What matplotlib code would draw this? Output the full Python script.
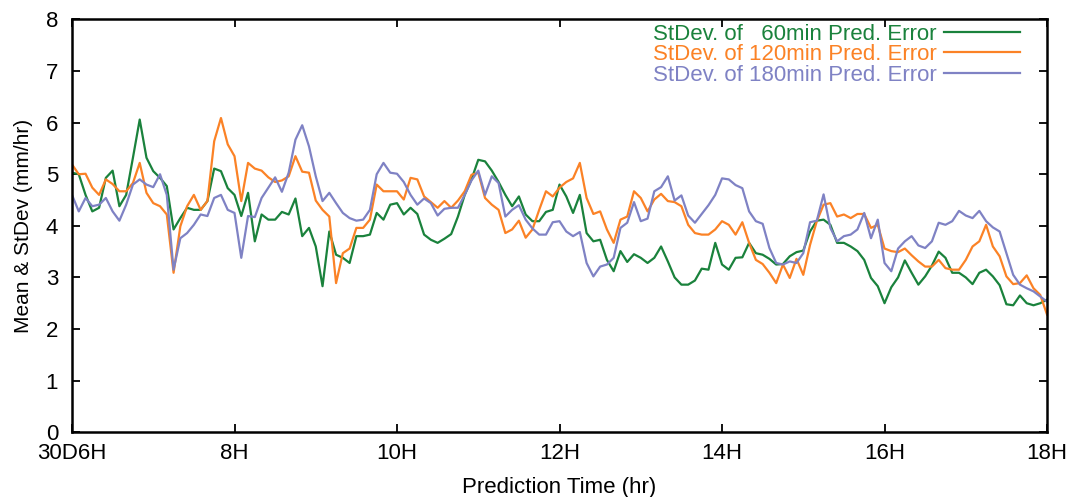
import matplotlib
matplotlib.use("Agg")
import matplotlib.pyplot as plt
import numpy as np

plt.rcParams['font.family'] = ['Liberation Sans', 'DejaVu Sans']

# 5-minute steps from 30D 06:00 to 18:00
t_hours = np.arange(145) * 5 / 60 + 6

sd60 = [5.03, 5.00, 4.60, 4.28, 4.35, 4.93, 5.07, 4.38, 4.60, 5.32, 6.06, 5.32, 5.06, 4.93, 4.77, 3.93,
        4.15, 4.35, 4.31, 4.31, 4.48, 5.11, 5.06, 4.73,
        4.60, 4.19, 4.64, 3.70, 4.22, 4.12, 4.12, 4.27, 4.22, 4.53, 3.80, 3.96, 3.60, 2.83, 3.89, 3.44,
        3.38, 3.28, 3.80, 3.80, 3.83, 4.25, 4.12, 4.41,
        4.44, 4.22, 4.35, 4.23, 3.83, 3.73, 3.67, 3.75, 3.84, 4.18, 4.60, 4.90, 5.28, 5.25, 5.07, 4.85,
        4.60, 4.38, 4.57, 4.22, 4.09, 4.09, 4.27, 4.31, 4.80,
        4.57, 4.25, 4.60, 3.86, 3.70, 3.73, 3.34, 3.12, 3.51, 3.30, 3.45, 3.38, 3.28, 3.38, 3.60, 3.31,
        3.00, 2.86, 2.86, 2.94, 3.17, 3.15, 3.67, 3.25,
        3.15, 3.38, 3.39, 3.67, 3.47, 3.44, 3.36, 3.25, 3.26, 3.41, 3.49, 3.52, 3.89, 4.10, 4.12, 4.02,
        3.67, 3.67, 3.60, 3.51, 3.34, 2.99, 2.83, 2.50,
        2.81, 3.00, 3.33, 3.09, 2.86, 3.02, 3.23, 3.50, 3.38, 3.09, 3.09, 3.00, 2.87, 3.09, 3.15, 3.02,
        2.85, 2.48, 2.46, 2.65, 2.50, 2.46, 2.50, 2.57]

sd120 = [5.19, 5.00, 5.01, 4.74, 4.60, 4.90, 4.81, 4.67, 4.67, 4.83, 5.22, 4.64, 4.44, 4.38, 4.22, 3.09,
         3.99, 4.38, 4.60, 4.31, 4.48, 5.64, 6.09, 5.58,
         5.35, 4.48, 5.22, 5.11, 5.07, 4.94, 4.85, 4.88, 4.96, 5.35, 5.05, 5.03, 4.49, 4.31, 4.18, 2.89,
         3.47, 3.56, 3.96, 3.96, 4.12, 4.80, 4.67, 4.67,
         4.67, 4.51, 4.93, 4.90, 4.57, 4.46, 4.35, 4.48, 4.35, 4.49, 4.67, 4.99, 5.03, 4.54, 4.41, 4.31,
         3.86, 3.93, 4.10, 3.77, 3.93, 4.31, 4.67, 4.57, 4.74,
         4.85, 4.92, 5.22, 4.54, 4.23, 4.28, 3.93, 3.67, 4.12, 4.18, 4.67, 4.54, 4.28, 4.51, 4.62, 4.48,
         4.46, 4.38, 4.02, 3.86, 3.83, 3.83, 3.93, 4.09,
         4.02, 3.83, 4.07, 3.67, 3.34, 3.26, 3.09, 2.89, 3.25, 2.99, 3.36, 3.05, 3.63, 4.09, 4.41, 4.44,
         4.18, 4.22, 4.15, 4.23, 4.23, 3.96, 4.02, 3.56,
         3.51, 3.49, 3.56, 3.43, 3.31, 3.21, 3.21, 3.34, 3.18, 3.15, 3.15, 3.34, 3.60, 3.70, 4.02, 3.60,
         3.41, 3.02, 2.87, 2.89, 3.04, 2.79, 2.66, 2.28]

sd180 = [4.60, 4.28, 4.54, 4.38, 4.41, 4.54, 4.28, 4.10, 4.41, 4.80, 4.90, 4.80, 4.75, 5.00, 4.60, 3.15,
         3.76, 3.86, 4.02, 4.22, 4.19, 4.54, 4.60, 4.31,
         4.25, 3.38, 4.19, 4.17, 4.54, 4.74, 4.94, 4.66, 5.03, 5.67, 5.95, 5.54, 4.96, 4.48, 4.64, 4.44,
         4.25, 4.15, 4.10, 4.12, 4.31, 5.00, 5.22, 5.03,
         5.01, 4.85, 4.60, 4.41, 4.53, 4.44, 4.20, 4.33, 4.35, 4.35, 4.60, 4.88, 5.07, 4.60, 4.96, 4.83,
         4.18, 4.31, 4.40, 4.12, 3.95, 3.83, 3.83, 4.07, 4.09,
         3.89, 3.80, 3.88, 3.28, 3.02, 3.21, 3.25, 3.38, 3.96, 4.06, 4.46, 4.09, 4.14, 4.67, 4.75, 4.96,
         4.49, 4.59, 4.20, 4.06, 4.23, 4.40, 4.60, 4.92,
         4.90, 4.79, 4.73, 4.28, 4.09, 4.04, 3.57, 3.28, 3.25, 3.31, 3.28, 3.47, 4.07, 4.10, 4.61, 3.96,
         3.70, 3.80, 3.83, 3.93, 4.25, 3.76, 4.12, 3.28,
         3.12, 3.56, 3.70, 3.80, 3.62, 3.57, 3.70, 4.06, 4.02, 4.09, 4.29, 4.20, 4.15, 4.29, 4.09, 3.97,
         3.89, 3.47, 3.05, 2.86, 2.79, 2.73, 2.63, 2.53]

labels = ['StDev. of   60min Pred. Error',
          'StDev. of 120min Pred. Error',
          'StDev. of 180min Pred. Error']
colors = ['#1a823c', '#fb8226', '#7f82c4']

xticks = [6, 8, 10, 12, 14, 16, 18]
xticklabels = ['30D6H', '8H', '10H', '12H', '14H', '16H', '18H']

fig = plt.figure(figsize=(10.73, 4.97), dpi=100)
ax = fig.add_axes([0.0671, 0.1304, 0.9087, 0.8304])

for y, lab, c in zip([sd60, sd120, sd180], labels, colors):
    ax.plot(t_hours, y, color=c, linewidth=1.6, label=lab)

ax.set_xlim(6, 18)
ax.set_ylim(0, 8)
ax.set_xticks(xticks)
ax.set_xticklabels(xticklabels)
ax.set_yticks(range(0, 9))
ax.tick_params(direction='in', length=6, width=1.3, labelsize=16,
               top=True, right=True)
ax.tick_params(axis='y', pad=10)
ax.tick_params(axis='x', pad=8)
for s in ax.spines.values():
    s.set_linewidth(1.8)

ax.set_xlabel('Prediction Time (hr)', fontsize=16, labelpad=9)
ax.set_ylabel('Mean & StDev (mm/hr)', fontsize=15, labelpad=9)

ax.legend(loc='upper right', bbox_to_anchor=(0.972, 0.99), frameon=False,
          markerfirst=False, labelcolor='linecolor', fontsize=16,
          handlelength=3.4, handletextpad=0.35, labelspacing=-0.02,
          borderpad=0, borderaxespad=0)

fig.savefig('out.png', dpi=100)
